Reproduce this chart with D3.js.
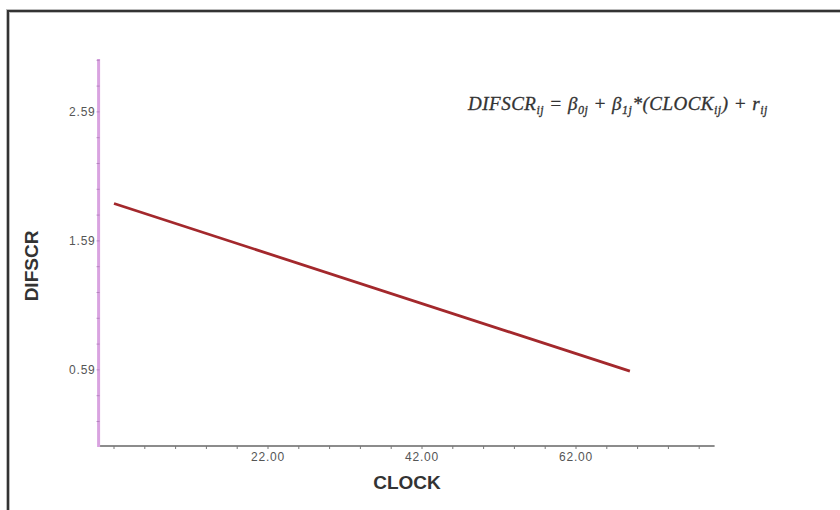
<!DOCTYPE html>
<html>
<head>
<meta charset="utf-8">
<script src="https://cdn.jsdelivr.net/npm/d3@7"></script>
<style>
  body { margin: 0; background: #fff; }
  svg { display: block; }
</style>
</head>
<body>
<div id="chart"></div>
<script>
// fitted line DIFSCR ~ CLOCK
const lineData = [
    { clock: 2, difscr: 1.88 },
    { clock: 69, difscr: 0.58 }
];
const xTickLabels = [22, 42, 62];
const yTickLabels = [0.59, 1.59, 2.59];
const xMinorTicks = d3.range(2, 80, 4);
const yMinorTicks = d3.range(0.19, 3.0, 0.2);

const width = 840;
const height = 510;

const svg = d3.select("#chart")
    .append("svg")
    .attr("width", width)
    .attr("height", height);

// outer frame (cut off at right and bottom)
svg.append("rect")
    .attr("x", 8)
    .attr("y", 11)
    .attr("width", 900)
    .attr("height", 600)
    .attr("fill", "none")
    .attr("stroke", "#bbb")
    .attr("stroke-width", 4);
svg.append("rect")
    .attr("x", 8)
    .attr("y", 11)
    .attr("width", 900)
    .attr("height", 600)
    .attr("fill", "none")
    .attr("stroke", "#333")
    .attr("stroke-width", 2);

const x = d3.scaleLinear().domain([0, 80]).range([98.6, 714.6]);
const y = d3.scaleLinear().domain([0, 3]).range([446, 59]);

// x axis
svg.append("line")
    .attr("x1", x(0)).attr("x2", x(80))
    .attr("y1", y(0)).attr("y2", y(0))
    .attr("stroke", "#666")
    .attr("stroke-width", 1.5);

svg.append("g")
    .selectAll("line")
    .data(xMinorTicks)
    .enter().append("line")
    .attr("x1", d => x(d)).attr("x2", d => x(d))
    .attr("y1", y(0)).attr("y2", y(0) + 3)
    .attr("stroke", "#777")
    .attr("stroke-width", 1);

svg.append("g")
    .selectAll("text")
    .data(xTickLabels)
    .enter().append("text")
    .attr("x", d => x(d))
    .attr("y", y(0) + 15)
    .attr("text-anchor", "middle")
    .attr("font-family", "Arial, 'Liberation Sans', sans-serif")
    .attr("font-size", 12)
    .attr("letter-spacing", 0.8)
    .attr("fill", "#555")
    .text(d => d.toFixed(2));

// y axis
svg.append("line")
    .attr("x1", x(0)).attr("x2", x(0))
    .attr("y1", y(0) + 1).attr("y2", y(3))
    .attr("stroke", "#d9a3e0")
    .attr("stroke-width", 3);

svg.append("g")
    .selectAll("line")
    .data(yMinorTicks)
    .enter().append("line")
    .attr("x1", x(0) - 2).attr("x2", x(0) + 1)
    .attr("y1", d => y(d)).attr("y2", d => y(d))
    .attr("stroke", "#b583c0")
    .attr("stroke-width", 1);

svg.append("g")
    .selectAll("text")
    .data(yTickLabels)
    .enter().append("text")
    .attr("x", x(0) - 3)
    .attr("y", d => y(d) + 4)
    .attr("text-anchor", "end")
    .attr("font-family", "Arial, 'Liberation Sans', sans-serif")
    .attr("font-size", 12)
    .attr("letter-spacing", 0.8)
    .attr("fill", "#555")
    .text(d => d.toFixed(2));

// regression line
const line = d3.line()
    .x(d => x(d.clock))
    .y(d => y(d.difscr));

svg.append("path")
    .datum(lineData)
    .attr("d", line)
    .attr("fill", "none")
    .attr("stroke", "#a3282c")
    .attr("stroke-width", 2.8);

// axis titles
svg.append("text")
    .attr("x", 407)
    .attr("y", 489)
    .attr("text-anchor", "middle")
    .attr("font-family", "Arial, 'Liberation Sans', sans-serif")
    .attr("font-weight", "bold")
    .attr("font-size", 19)
    .attr("fill", "#333")
    .text("CLOCK");

svg.append("text")
    .attr("transform", "translate(38,266) rotate(-90)")
    .attr("text-anchor", "middle")
    .attr("font-family", "Arial, 'Liberation Sans', sans-serif")
    .attr("font-weight", "bold")
    .attr("font-size", 19)
    .attr("fill", "#333")
    .text("DIFSCR");

// model equation
const eq = svg.append("text")
    .attr("x", 468)
    .attr("y", 110)
    .attr("font-family", "'Liberation Serif', 'Times New Roman', serif")
    .attr("font-style", "italic")
    .attr("font-size", 19)
    .attr("letter-spacing", 0.5)
    .attr("fill", "#333")
    .attr("stroke", "#333")
    .attr("stroke-width", 0.3);

const parts = [
    ["DIFSCR", false], ["ij", true], [" = β", false], ["0j", true],
    [" + β", false], ["1j", true], ["*(CLOCK", false], ["ij", true],
    [") + r", false], ["ij", true]
];
parts.forEach(p => {
    eq.append("tspan")
        .attr("font-size", p[1] ? 12 : 19)
        .attr("baseline-shift", p[1] ? "-4" : null)
        .text(p[0]);
});
</script>
</body>
</html>
